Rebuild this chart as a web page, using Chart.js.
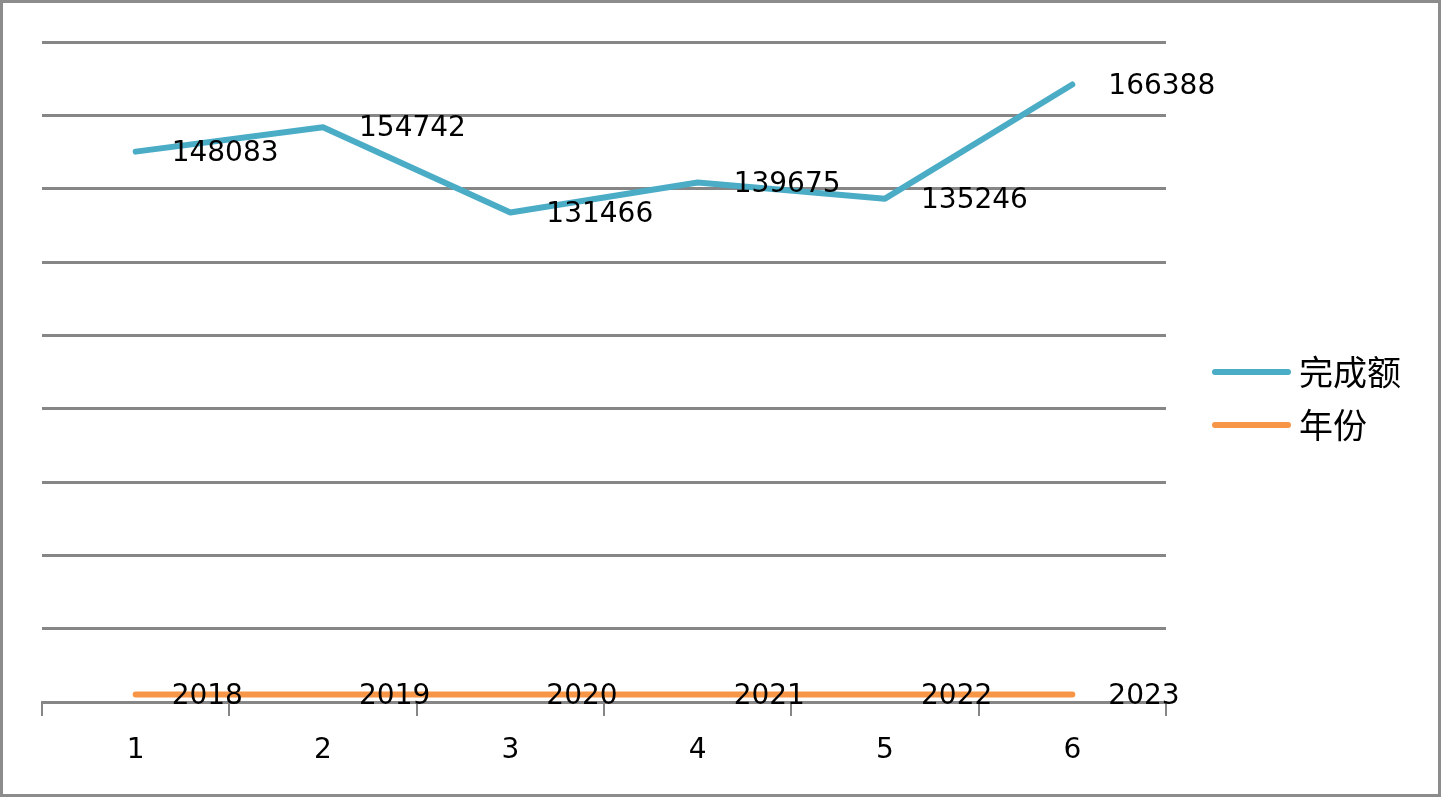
<!DOCTYPE html>
<html>
<head>
<meta charset="utf-8">
<script src="https://cdn.jsdelivr.net/npm/chart.js@4/dist/chart.umd.min.js"></script>
<style>
  html, body { margin: 0; padding: 0; background: #fff; }
  #wrap { width: 1444px; height: 800px; position: relative; }
</style>
</head>
<body>
<div id="wrap"><canvas id="chart_main" width="1444" height="800"></canvas></div>
<script>
// data (stacked line chart: 年份 is the base, 完成额 on top)
var categories = ['1', '2', '3', '4', '5', '6'];
var amountLabel = '完成额';
var amountValues = [148083, 154742, 131466, 139675, 135246, 166388];
var yearLabel = '年份';
var yearValues = [2018, 2019, 2020, 2021, 2022, 2023];
var yMax = 180000;
var yStep = 20000;

var gridColor = '#868686';
var labelFont = '28px "DejaVu Sans", Verdana, sans-serif';

// value labels to the right of each point
var valueLabels = {
    id: 'valueLabels',
    afterDatasetsDraw: function (chart) {
        let ctx = chart.ctx;
        ctx.save();
        ctx.font = labelFont;
        ctx.fillStyle = '#000';
        ctx.textAlign = 'left';
        ctx.textBaseline = 'middle';
        chart.data.datasets.forEach(function (ds, i) {
            let meta = chart.getDatasetMeta(i);
            meta.data.forEach(function (pt, j) {
                ctx.fillText(String(ds.data[j]), pt.x + 36, pt.y + 2);
            });
        });
        ctx.restore();
    }
};

// legend on the right (完成额 first) + outer frame
var sideLegend = {
    id: 'sideLegend',
    afterDraw: function (chart) {
        let ctx = chart.ctx;
        ctx.save();
        let items = chart.data.datasets.slice().reverse();
        let startY = 372;
        items.forEach(function (ds, i) {
            let y = startY + i * 53;
            ctx.strokeStyle = ds.borderColor;
            ctx.lineWidth = 6;
            ctx.lineCap = 'round';
            ctx.beginPath();
            ctx.moveTo(1215, y);
            ctx.lineTo(1288, y);
            ctx.stroke();
            ctx.font = '34px "Noto Sans CJK SC", sans-serif';
            ctx.fillStyle = '#000';
            ctx.textAlign = 'left';
            ctx.textBaseline = 'middle';
            ctx.fillText(ds.label, 1299, y);
        });
        ctx.strokeStyle = '#8c8c8c';
        ctx.lineWidth = 3;
        ctx.lineCap = 'butt';
        ctx.strokeRect(1.5, 1.5, 1438, 794);
        ctx.restore();
    }
};

var chartDataCommon = {
    labels: categories,
    datasets: [
        {
            label: yearLabel,
            data: yearValues,
            borderColor: '#F79646',
            backgroundColor: '#F79646',
            borderWidth: 6,
            borderCapStyle: 'round',
            pointRadius: 0,
            tension: 0
        },
        {
            label: amountLabel,
            data: amountValues,
            borderColor: '#4BACC6',
            backgroundColor: '#4BACC6',
            borderWidth: 6,
            borderJoinStyle: 'round',
            borderCapStyle: 'round',
            pointRadius: 0,
            tension: 0
        }
    ]
};

var chartOptions = {
    responsive: false,
    animation: false,
    layout: {
        padding: { left: 42, top: 42, right: 278, bottom: 0 }
    },
    plugins: {
        legend: { display: false },
        tooltip: { enabled: false }
    },
    scales: {
        x: {
            offset: true,
            grid: {
                offset: true,
                drawOnChartArea: false,
                drawTicks: true,
                tickLength: 14,
                color: gridColor,
                lineWidth: 2
            },
            border: { display: true, color: gridColor, width: 2 },
            ticks: {
                color: '#000',
                font: { family: '"DejaVu Sans", Verdana, sans-serif', size: 28 },
                padding: 18,
                maxRotation: 0
            },
            afterFit: function (s) { s.height = 98; }
        },
        y: {
            stacked: true,
            min: 0,
            max: yMax,
            ticks: { display: false, stepSize: yStep },
            grid: {
                color: gridColor,
                lineWidth: 3,
                drawTicks: false
            },
            border: { display: false },
            afterFit: function (s) { s.width = 0; }
        }
    }
};

new Chart('chart_main', {
    type: 'line',
    data: chartDataCommon,
    options: chartOptions,
    plugins: [valueLabels, sideLegend]
});
</script>
</body>
</html>
